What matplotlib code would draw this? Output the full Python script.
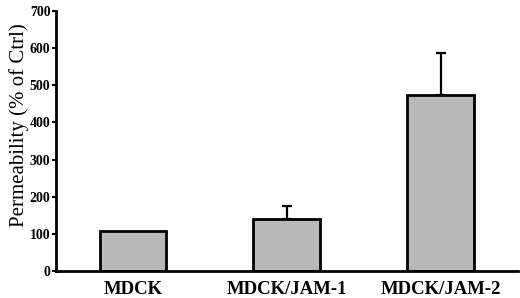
import matplotlib.pyplot as plt

# values
groups = ["MDCK", "MDCK/JAM-1", "MDCK/JAM-2"]
permeability = [107, 140, 474]
err_up = [0, 35, 112]
yticks = [0, 100, 200, 300, 400, 500, 600, 700]

plt.rcParams["font.family"] = ["Liberation Serif", "DejaVu Serif"]

fig = plt.figure(figsize=(5.2, 2.98), dpi=100)
ax = fig.add_axes([0.1077, 0.0906, 0.8883, 0.8724])

x = list(range(len(groups)))
ax.bar(x, permeability, width=0.435, color="#b9b9b9", edgecolor="black",
       linewidth=2, zorder=2)

# only upward error bars, and none where there is no error
ex = [xi for xi, e in zip(x, err_up) if e > 0]
ey = [v for v, e in zip(permeability, err_up) if e > 0]
ee = [e for e in err_up if e > 0]
ax.errorbar(ex, ey, yerr=[[0] * len(ee), ee], fmt="none",
            ecolor="black", elinewidth=1.6, capsize=3.8, capthick=1.6, zorder=1)

ax.set_xlim(-0.5, 2.5)
ax.set_ylim(0, 700)
ax.set_yticks(yticks)
ax.set_yticklabels([str(t) for t in yticks], fontsize=10, fontweight="bold")
ax.set_xticks(x)
ax.set_xticklabels(groups, fontsize=13.5, fontweight="bold")
ax.tick_params(axis="x", length=0, pad=7)
ax.tick_params(axis="y", direction="out", length=3, width=1.5, pad=1)
ax.set_ylabel("Permeability (% of Ctrl)", fontsize=15)
ax.yaxis.set_label_coords(-0.058, 0.56)

for side in ("top", "right"):
    ax.spines[side].set_visible(False)
for side in ("left", "bottom"):
    ax.spines[side].set_linewidth(2)

fig.savefig("out.png", dpi=100)
